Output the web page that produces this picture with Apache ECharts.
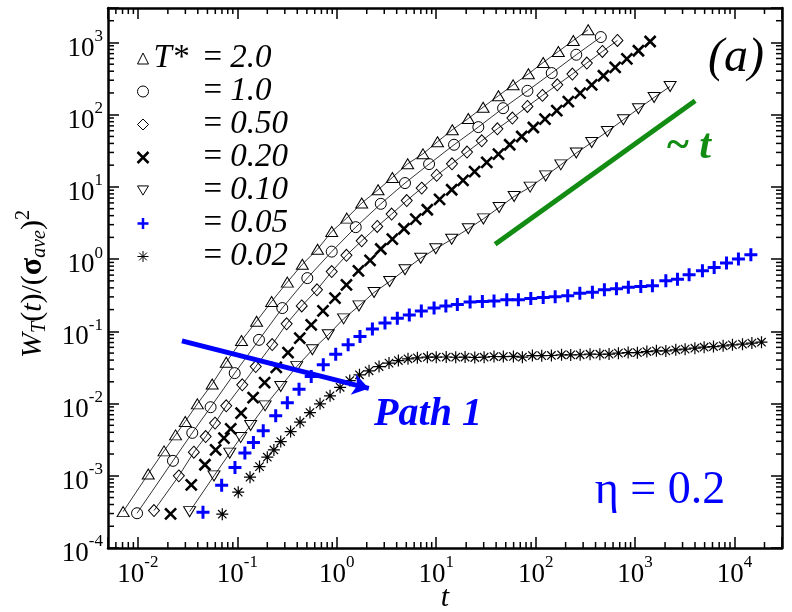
<!DOCTYPE html>
<html>
<head>
<meta charset="utf-8">
<script src="https://cdn.jsdelivr.net/npm/echarts@6/dist/echarts.min.js"></script>
<style>
  html, body { margin: 0; padding: 0; background: #fff; }
  #chart { width: 792px; height: 612px; }
</style>
</head>
<body>
<div id="chart"></div>
<script>
const serif = 'Liberation Serif, Times New Roman, serif';
const blue = '#0000ff';
const green = '#138c13';

// T* = 2.0 (open triangles, joined)
const t20 = [0.0071, 0.0127, 0.0183, 0.0239, 0.0299, 0.0396, 0.0558, 0.0773, 0.110, 0.156, 0.221, 0.318, 0.450, 0.640, 0.889, 1.26, 1.78, 2.60, 3.62, 5.16, 7.36, 10.3, 14.5, 21.0, 29.6, 42.2, 59.3, 84.5, 119, 169, 239, 337];
const w20 = [3.19e-4, 1.06e-3, 2.21e-3, 3.68e-3, 5.64e-3, 9.9e-3, 0.0187, 0.0374, 0.0746, 0.138, 0.259, 0.480, 0.847, 1.37, 2.41, 3.70, 5.97, 9.12, 13.5, 20.9, 28.7, 42.2, 61.8, 88.5, 127, 183, 259, 368, 528, 750, 1066, 1500];
// T* = 1.0 (open circles, joined)
const t10 = [0.0098, 0.0225, 0.0352, 0.0538, 0.0940, 0.165, 0.283, 0.505, 0.889, 1.55, 2.77, 4.85, 8.47, 15.1, 26.5, 47.0, 82.6, 145, 256, 452];
const w10 = [3.03e-4, 1.61e-3, 3.93e-3, 8.9e-3, 0.0264, 0.0762, 0.210, 0.546, 1.27, 2.77, 5.83, 11.3, 20.7, 38.3, 67.3, 123, 214, 377, 676, 1188];
// T* = 0.50 (open diamonds, joined)
const t050 = [0.0145, 0.0258, 0.0365, 0.0480, 0.0596, 0.0773, 0.112, 0.153, 0.224, 0.313, 0.444, 0.632, 0.889, 1.25, 1.78, 2.55, 3.56, 5.05, 7.14, 10.1, 14.4, 20.4, 28.7, 41.2, 58.3, 82.6, 117, 165, 234, 327, 469, 664];
const w050 = [3.30e-4, 9.97e-4, 2.12e-3, 3.49e-3, 5.36e-3, 9.3e-3, 0.0182, 0.0325, 0.0656, 0.127, 0.225, 0.376, 0.673, 1.13, 1.79, 2.83, 4.20, 6.48, 9.62, 14.5, 20.9, 30.4, 43.5, 63.8, 89.7, 130, 185, 259, 365, 519, 750, 1066];
// T* = 0.20 (bold crosses)
const t020 = [0.0213, 0.0344, 0.0472, 0.0605, 0.0733, 0.0857, 0.109, 0.144, 0.188, 0.246, 0.323, 0.424, 0.553, 0.726, 0.959, 1.25, 1.65, 2.16, 2.77, 3.62, 4.74, 6.22, 8.13, 10.8, 14.3, 18.6, 24.3, 32.2, 42.2, 54.8, 72.4, 94.8, 124, 163, 213, 280, 366, 480, 630, 826, 1080, 1416];
const w020 = [2.97e-4, 7.48e-4, 1.42e-3, 2.28e-3, 3.32e-3, 4.47e-3, 7.36e-3, 0.0121, 0.0195, 0.0317, 0.0508, 0.0805, 0.123, 0.192, 0.288, 0.441, 0.689, 0.962, 1.38, 1.89, 2.63, 3.58, 4.82, 6.73, 9.12, 12.3, 16.3, 21.8, 28.4, 38.3, 49.9, 66.5, 86.9, 114, 152, 199, 259, 346, 451, 594, 767, 1032];
// T* = 0.10 (open down triangles, joined)
const t010 = [0.0331, 0.0582, 0.0838, 0.108, 0.136, 0.190, 0.273, 0.395, 0.568, 0.820, 1.17, 1.67, 2.37, 3.40, 4.85, 6.98, 9.89, 14.3, 21.0, 29.8, 42.9, 60.7, 87.9, 126, 179, 256, 366, 526, 762, 1080, 1552, 2249];
const w010 = [3.19e-4, 9.97e-4, 2.06e-3, 3.38e-3, 4.96e-3, 9.3e-3, 0.0172, 0.0325, 0.0555, 0.0895, 0.149, 0.225, 0.345, 0.490, 0.711, 1.03, 1.39, 1.88, 2.63, 3.61, 5.18, 7.36, 9.94, 14.2, 20.2, 29.4, 41.2, 58.5, 85.0, 121, 173, 246];
// T* = 0.05 (blue plus)
const t005 = [0.0451, 0.0695, 0.0946, 0.119, 0.145, 0.182, 0.243, 0.318, 0.417, 0.553, 0.731, 0.975, 1.30, 1.71, 2.28, 3.05, 4.06, 5.36, 7.08, 9.51, 12.5, 16.3, 21.9, 29.1, 38.1, 51.2, 67.0, 89.3, 119, 157, 210, 278, 372, 491, 649, 855, 1140, 1493, 2037, 2667, 3491, 4753, 6237, 8299, 10940, 14590];
const w005 = [3.13e-4, 7.41e-4, 1.30e-3, 2.07e-3, 2.88e-3, 4.19e-3, 6.76e-3, 0.0103, 0.0158, 0.0237, 0.0344, 0.0483, 0.0650, 0.0847, 0.108, 0.130, 0.152, 0.169, 0.192, 0.210, 0.225, 0.235, 0.254, 0.259, 0.264, 0.273, 0.273, 0.285, 0.294, 0.301, 0.310, 0.338, 0.349, 0.376, 0.388, 0.409, 0.417, 0.427, 0.500, 0.528, 0.606, 0.689, 0.765, 0.881, 1.00, 1.15];
// T* = 0.02 (asterisks)
const t002 = [0.0705, 0.102, 0.134, 0.167, 0.200, 0.233, 0.273, 0.343, 0.427, 0.537, 0.678, 0.855, 1.08, 1.35, 1.69, 2.11, 2.66, 3.35, 4.16, 5.20, 6.46, 8.14, 10.0, 12.6, 15.7, 19.5, 24.4, 30.3, 38.1, 47.3, 59.7, 73.5, 92.7, 115, 144, 182, 225, 280, 352, 442, 547, 679, 851, 1054, 1312, 1637, 2037, 2564, 3184, 3990, 4943, 6138, 7674, 9528, 12020, 14930, 18660];
const w002 = [2.94e-4, 5.93e-4, 9.57e-4, 1.34e-3, 1.81e-3, 2.28e-3, 2.98e-3, 4.09e-3, 5.52e-3, 7.50e-3, 9.9e-3, 0.0128, 0.0168, 0.0208, 0.0250, 0.0284, 0.0325, 0.0363, 0.0394, 0.0416, 0.0430, 0.0439, 0.0439, 0.0441, 0.0438, 0.0440, 0.0434, 0.0439, 0.0448, 0.0447, 0.0449, 0.0439, 0.0462, 0.0461, 0.0463, 0.0473, 0.0472, 0.0474, 0.0483, 0.0482, 0.0484, 0.0499, 0.0508, 0.0507, 0.0525, 0.0537, 0.0536, 0.0555, 0.0567, 0.0585, 0.0604, 0.0616, 0.0630, 0.0650, 0.0665, 0.0687, 0.0708];

// annotations (data coordinates)
const pathArrow = [[0.0277, 0.0738], [2.1, 0.0162]];
const slopeLine = [[39.1, 1.61], [4018, 156]];

const xRange = [0.005, 30000];
const yRange = [1e-4, 3000];

// minor ticks at 2..9 of every decade
const xMinor = [];
const yMinor = [];
for (let e = -4; e <= 4; e++) {
  for (let m = 2; m <= 9; m++) {
    const v = m * Math.pow(10, e);
    if (v > xRange[0] && v < xRange[1]) xMinor.push(v);
    if (v > yRange[0] && v < yRange[1]) yMinor.push(v);
  }
}

const pairs = (t, w) => t.map((v, i) => [v, w[i]]);

const sym = {
  up: 'triangle',
  circle: 'circle',
  diamond: 'diamond',
  cross: 'path://M0,0L10,10M10,0L0,10',
  down: 'path://M0,0L12,0L6,10Z',
  plus: 'path://M5,0L5,10M0,5L10,5',
  star: 'path://M5,0L5,10M0,5L10,5M1.5,1.5L8.5,8.5M1.5,8.5L8.5,1.5'
};

function joined(name, t, w, symbol, size) {
  return {
    name, type: 'line', data: pairs(t, w), symbol, symbolSize: size,
    showAllSymbol: true, z: 3,
    lineStyle: { color: '#000', width: 0.8 },
    itemStyle: { color: 'rgba(0,0,0,0)', borderColor: '#000', borderWidth: 1 }
  };
}

function marks(name, t, w, symbol, size, color, width) {
  return {
    name, type: 'scatter', data: pairs(t, w), symbol, symbolSize: size, z: 3,
    itemStyle: { color: 'none', borderColor: color, borderWidth: width, opacity: 1 }
  };
}

function legendItem(name, icon, color, width, fill) {
  return { name, icon, itemStyle: { color: fill, borderColor: color, borderWidth: width } };
}

function minorTicks(values, horizontal) {
  return {
    type: 'custom', silent: true, z: 1,
    data: values.map(v => horizontal ? [v, 1] : [1, v]),
    renderItem: (params, api) => {
      const cs = params.coordSys;
      const p = api.coord([api.value(0), api.value(1)]);
      const st = { stroke: '#000', lineWidth: 1.5 };
      if (horizontal) {
        const b = cs.y + cs.height;
        return { type: 'group', children: [
          { type: 'line', shape: { x1: p[0], y1: b, x2: p[0], y2: b - 6 }, style: st },
          { type: 'line', shape: { x1: p[0], y1: cs.y, x2: p[0], y2: cs.y + 6 }, style: st }
        ] };
      }
      const r = cs.x + cs.width;
      return { type: 'group', children: [
        { type: 'line', shape: { x1: cs.x, y1: p[1], x2: cs.x + 6, y2: p[1] }, style: st },
        { type: 'line', shape: { x1: r, y1: p[1], x2: r - 6, y2: p[1] }, style: st }
      ] };
    }
  };
}

const powerLabel = v => {
  const lg = Math.log10(v);
  const e = Math.round(lg);
  if (Math.abs(lg - e) > 1e-6) return '';
  return '{b|10}{s|' + e + '}';
};
const labelRich = {
  b: { fontFamily: serif, fontSize: 27, color: '#000', padding: [12, 0, 0, 0] },
  s: { fontFamily: serif, fontSize: 17, color: '#000', padding: [0, 0, 12, 0] }
};

function logAxis(range, position, showLabel) {
  return {
    type: 'log', logBase: 10, min: range[0], max: range[1], position,
    axisLine: { show: true, lineStyle: { color: '#000', width: 2.5 } },
    axisTick: { show: true, inside: true, length: 11, lineStyle: { color: '#000', width: 1.5 } },
    axisLabel: { show: showLabel, formatter: powerLabel, rich: labelRich, margin: position === 'bottom' ? 1 : 5 },
    splitLine: { show: false },
    minorTick: { show: false }
  };
}

const legendRich = {
  t: { fontFamily: serif, fontSize: 33, fontStyle: 'italic', width: 50, lineHeight: 29.3 },
  e: { fontFamily: serif, fontSize: 33, lineHeight: 29.3 },
  v: { fontFamily: serif, fontSize: 33, fontStyle: 'italic', lineHeight: 29.3 }
};

const chart = echarts.init(document.getElementById('chart'));
chart.setOption({
  animation: false,
  backgroundColor: '#fff',
  grid: { left: 108, right: 10, top: 8, bottom: 64 },
  xAxis: [logAxis(xRange, 'bottom', true), logAxis(xRange, 'top', false)],
  yAxis: [logAxis(yRange, 'left', true), logAxis(yRange, 'right', false)],
  legend: {
    orient: 'vertical', left: 135, top: 42, padding: 0, itemGap: 0,
    itemWidth: 11, itemHeight: 11, selectedMode: false,
    textStyle: { color: '#000', fontFamily: serif, fontSize: 33, rich: legendRich },
    formatter: name => (name === '2.0' ? '{t|T*}' : '{t| }') + '{e|= }{v|' + name + '}',
    data: [
      legendItem('2.0', sym.up, '#000', 1, 'rgba(0,0,0,0)'),
      legendItem('1.0', sym.circle, '#000', 1, 'rgba(0,0,0,0)'),
      legendItem('0.50', sym.diamond, '#000', 1, 'rgba(0,0,0,0)'),
      legendItem('0.20', sym.cross, '#000', 2.5, 'none'),
      legendItem('0.10', sym.down, '#000', 1, 'rgba(0,0,0,0)'),
      legendItem('0.05', sym.plus, blue, 2.5, 'none'),
      legendItem('0.02', sym.star, '#000', 1, 'none')
    ]
  },
  series: [
    minorTicks(xMinor, true),
    minorTicks(yMinor, false),
    joined('2.0', t20, w20, sym.up, [12, 10]),
    joined('1.0', t10, w10, sym.circle, 11),
    joined('0.50', t050, w050, sym.diamond, [11, 12]),
    marks('0.20', t020, w020, sym.cross, 11, '#000', 2.6),
    joined('0.10', t010, w010, sym.down, [12, 10]),
    marks('0.05', t005, w005, sym.plus, 13, blue, 3),
    marks('0.02', t002, w002, sym.star, 12, '#000', 1.2),
    {
      type: 'lines', coordinateSystem: 'cartesian2d', z: 4, silent: true,
      data: [{ coords: slopeLine }],
      lineStyle: { color: green, width: 5, opacity: 1 }
    },
    {
      type: 'lines', coordinateSystem: 'cartesian2d', z: 5, silent: true,
      symbol: ['none', 'arrow'], symbolSize: 16,
      data: [{ coords: pathArrow }],
      lineStyle: { color: blue, width: 5, opacity: 1 }
    }
  ],
  graphic: [
    {
      type: 'text', x: 33, y: 284, rotation: Math.PI / 2, silent: true,
      style: {
        text: '{i|W}{sb|T}{n|(}{i|t}{n|)/(}{g|σ}{sb|ave}{n|)}{sp|2}',
        fill: '#000', align: 'center', verticalAlign: 'middle',
        rich: {
          i: { fontFamily: serif, fontSize: 30, fontStyle: 'italic' },
          n: { fontFamily: serif, fontSize: 30 },
          g: { fontFamily: serif, fontSize: 32, fontWeight: 'bold' },
          sb: { fontFamily: serif, fontSize: 20, fontStyle: 'italic', padding: [14, 0, 0, 0] },
          sp: { fontFamily: serif, fontSize: 20, padding: [0, 0, 18, 0] }
        }
      }
    },
    {
      type: 'text', x: 445, y: 598, silent: true,
      style: { text: 't', fill: '#000', fontFamily: serif, fontSize: 30, fontStyle: 'italic', align: 'center', verticalAlign: 'middle' }
    },
    {
      type: 'text', x: 736, y: 58, silent: true,
      style: { text: '(a)', fill: '#000', fontFamily: serif, fontSize: 48, fontStyle: 'italic', align: 'center', verticalAlign: 'middle' }
    },
    {
      type: 'text', x: 689, y: 147, silent: true,
      style: {
        text: '{a|~} {b|t}', fill: green, fontFamily: serif, fontSize: 42, fontWeight: 'bold',
        align: 'center', verticalAlign: 'middle',
        rich: {
          a: { fontFamily: serif, fontSize: 42, fontWeight: 'bold' },
          b: { fontFamily: serif, fontSize: 42, fontWeight: 'bold', fontStyle: 'italic' }
        }
      }
    },
    {
      type: 'text', x: 428, y: 415, silent: true,
      style: { text: 'Path 1', fill: blue, fontFamily: serif, fontSize: 40, fontWeight: 'bold', fontStyle: 'italic', align: 'center', verticalAlign: 'middle' }
    },
    {
      type: 'text', x: 660, y: 491, silent: true,
      style: { text: 'η = 0.2', fill: blue, fontFamily: serif, fontSize: 46, align: 'center', verticalAlign: 'middle' }
    }
  ]
});
</script>
</body>
</html>
